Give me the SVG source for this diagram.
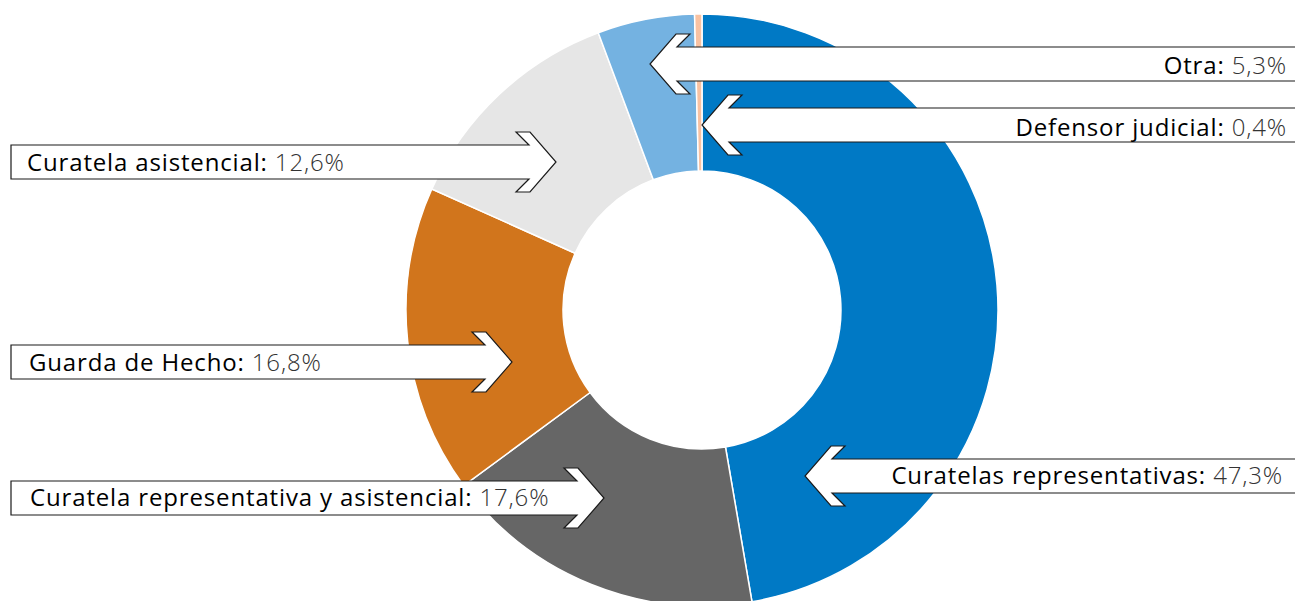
<svg xmlns="http://www.w3.org/2000/svg" width="1295" height="601" viewBox="0 0 1295 601">
<style>
.seg{stroke:#fff;stroke-width:1.5;stroke-linejoin:round}
.arrow{fill:#fff;stroke:#1a1a1a;stroke-width:1.2;stroke-linejoin:miter}
.lbl{font-family:"Open Sans","Liberation Sans",sans-serif;font-size:24px;letter-spacing:0.85px;fill:#000;font-weight:400}
.num{font-weight:300;fill:#333}
</style>
<rect width="1295" height="601" fill="#fff"/>
<g id="pie">
<g id="seg-curatelas-representativas"><path class="seg" fill="#0079C5" d="M702,14 A296,296 0 0 1 751.98,601.75 L725.47,447 A139,139 0 0 0 702,171 Z"/></g>
<g id="seg-curatela-rep-asist"><path class="seg" fill="#666666" d="M751.98,601.75 A296,296 0 0 1 463.75,485.66 L590.12,392.49 A139,139 0 0 0 725.47,447 Z"/></g>
<g id="seg-guarda-hecho"><path class="seg" fill="#D1751C" d="M463.75,485.66 A296,296 0 0 1 431.84,189.04 L575.14,253.2 A139,139 0 0 0 590.12,392.49 Z"/></g>
<g id="seg-curatela-asistencial"><path class="seg" fill="#E6E6E6" d="M431.84,189.04 A296,296 0 0 1 598.25,32.78 L653.28,179.82 A139,139 0 0 0 575.14,253.2 Z"/></g>
<g id="seg-otra"><path class="seg" fill="#74B2E1" d="M598.25,32.78 A296,296 0 0 1 694.56,14.09 L698.51,171.04 A139,139 0 0 0 653.28,179.82 Z"/></g>
<g id="seg-defensor"><path class="seg" fill="#F9C2A2" d="M694.56,14.09 A296,296 0 0 1 702,14 L702,171 A139,139 0 0 0 698.51,171.04 Z"/></g>
</g>
<g id="connectors">
<polygon class="arrow" points="1300,47 677,47 690,34 676,34 650,64 676,94 690,94 677,81 1300,81"/>
<polygon class="arrow" points="1300,108 729,108 742,95 728,95 702,125 728,155 742,155 729,142 1300,142"/>
<polygon class="arrow" points="1300,459 832,459 845,446 831,446 805,476 831,506 845,506 832,493 1300,493"/>
<polygon class="arrow" points="11,145 529,145 516,132 530,132 556,162 530,192 516,192 529,179 11,179"/>
<polygon class="arrow" points="11,345 485,345 472,332 486,332 512,362 486,392 472,392 485,379 11,379"/>
<polygon class="arrow" points="11,481 577,481 564,468 578,468 604,498 578,528 564,528 577,515 11,515"/>
</g>
<g id="node-otra"><text class="lbl" x="1287" y="74" text-anchor="end">Otra: <tspan class="num">5,3%</tspan></text></g>
<g id="node-defensor"><text class="lbl" x="1287" y="136" text-anchor="end">Defensor judicial: <tspan class="num">0,4%</tspan></text></g>
<g id="node-curatelas-rep"><text class="lbl" x="1283" y="484" text-anchor="end">Curatelas representativas: <tspan class="num">47,3%</tspan></text></g>
<g id="node-curatela-asist"><text class="lbl" x="27" y="171">Curatela asistencial: <tspan class="num">12,6%</tspan></text></g>
<g id="node-guarda"><text class="lbl" x="29" y="371">Guarda de Hecho: <tspan class="num">16,8%</tspan></text></g>
<g id="node-curatela-rep-asist"><text class="lbl" x="30" y="506">Curatela representativa y asistencial: <tspan class="num">17,6%</tspan></text></g>
</svg>
